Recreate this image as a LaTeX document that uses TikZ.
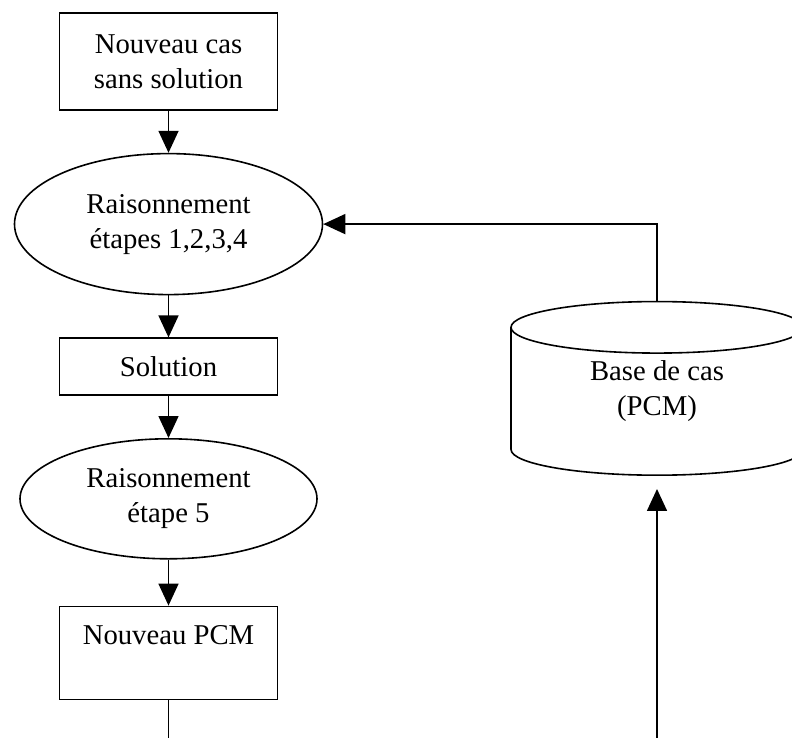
\documentclass[tikz,border=0pt]{standalone}
\usepackage{fontspec}
\setmainfont{Liberation Serif}
\usetikzlibrary{
    arrows.meta,
    positioning,
    shapes.geometric
}

\begin{document}
\begin{tikzpicture}[
        x=0.5pt, y=-0.5pt,
        node distance=21pt,
        font=\fontsize{14.35}{17.5}\selectfont,
        block/.style={
            rectangle,
            draw,
            line width=0.8pt,
            align=center,
            minimum width=109pt
        },
        phase/.style={
            ellipse,
            draw,
            line width=0.8pt,
            align=center,
            inner sep=0pt
        },
        store/.style={
            cylinder,
            shape border rotate=90,
            draw,
            line width=0.8pt,
            align=center,
            aspect=0.35
        },
        line/.style={
            -{Triangle[length=11pt,width=10pt]},
            line width=0.8pt
        }
    ]

    \useasboundingbox (0,0) rectangle (792,738);
    \clip (0,0) rectangle (792,738);

    \node[block, minimum height=48.5pt] (nouveau) at (168.5,61.5)
        {Nouveau cas\\sans solution};

    \node[phase, below=of nouveau, minimum width=154pt, minimum height=70.5pt] (raison1)
        {Raisonnement\\étapes 1,2,3,4};

    \node[block, below=of raison1, minimum height=28.5pt] (solution)
        {Solution};

    \node[phase, below=of solution, minimum width=148.5pt, minimum height=60pt] (raison2)
        {Raisonnement\\étape 5};

    \node[block, below=23pt of raison2, minimum height=46.5pt] (pcm)
        {Nouveau PCM\\\mbox{}};

    \node[store, minimum width=146pt, minimum height=86.5pt] (base) at (657,405.5)
        {Base de cas\\(PCM)\\\mbox{}};

    \coordinate (retour) at (pcm.south |- 0,760);

    \draw[line] (nouveau) -- (raison1);
    \draw[line] (raison1) -- (solution);
    \draw[line] (solution) -- (raison2);
    \draw[line] (raison2) -- (pcm);

    \draw[line] (base.north) |- (raison1.east);
    \draw[line, shorten >=6.5pt] (pcm) -- (retour) -| (base.south);

\end{tikzpicture}
\end{document}
